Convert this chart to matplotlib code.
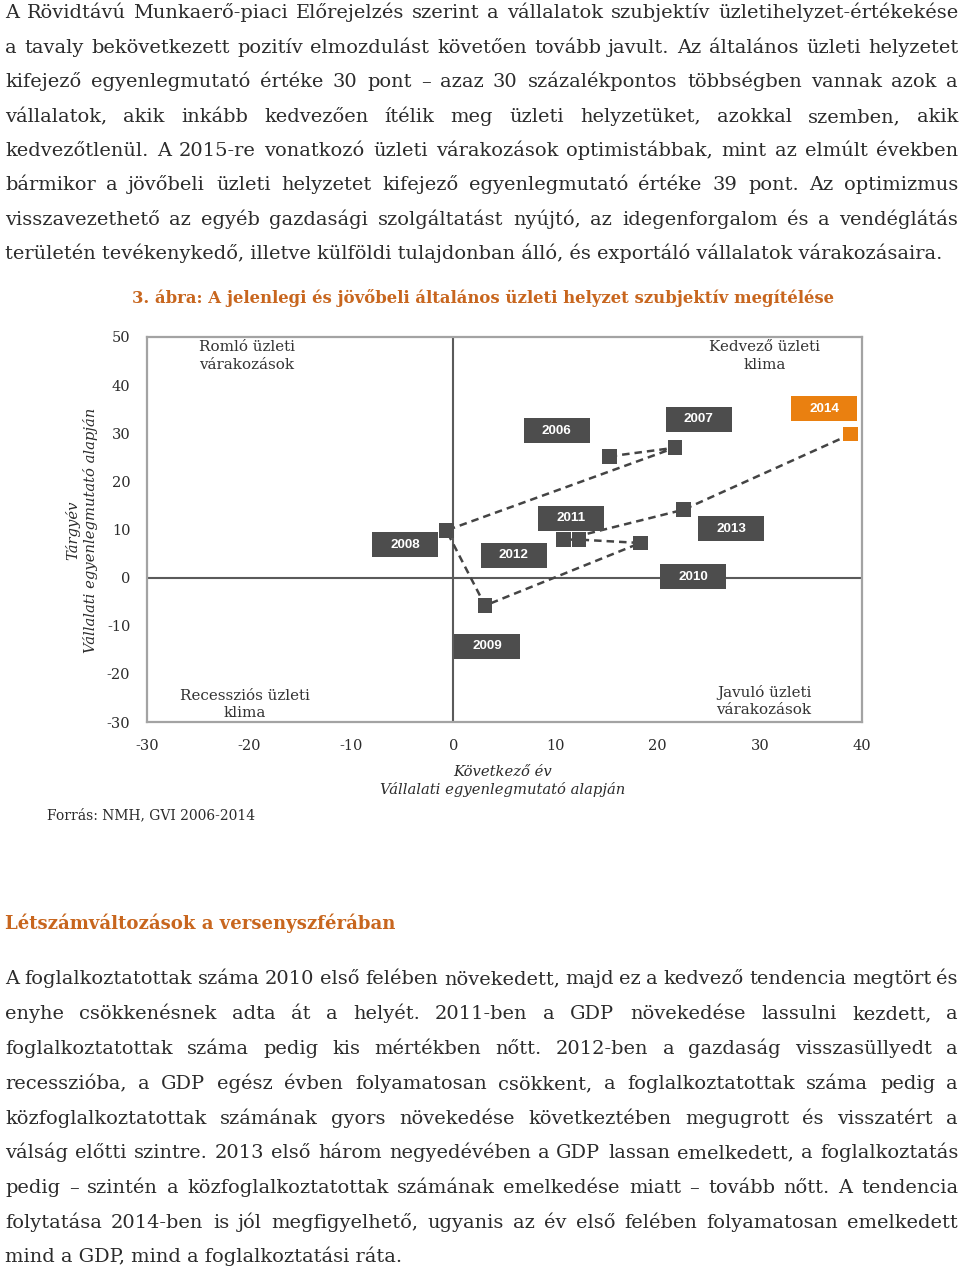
import matplotlib
matplotlib.use("Agg")
import matplotlib.pyplot as plt
from matplotlib.patches import Rectangle

# ---------------- data ----------------
years = ["2006", "2007", "2008", "2009", "2010", "2011", "2012", "2013", "2014"]
next_year_balance = [15.3, 21.7, -0.7, 3.1, 18.3, 12.3, 10.8, 22.5, 38.9]   # x: Következő év
current_year_balance = [25.2, 27.0, 9.8, -5.8, 7.2, 7.9, 7.9, 14.1, 29.8]  # y: Tárgyév
x_ticks = [-30, -20, -10, 0, 10, 20, 30, 40]
y_ticks = [-30, -20, -10, 0, 10, 20, 30, 40, 50]
highlight_year = "2014"

# label box layout (centre of each year box, in data units)
label_x = [10.1, 24.0, -4.7, 3.3, 23.5, 11.5, 5.9, 27.2, 36.3]
label_y = [30.5, 32.9, 6.8, -14.3, 0.2, 12.3, 4.7, 10.2, 35.1]

para1 = [
    "A Rövidtávú Munkaerő-piaci Előrejelzés szerint a vállalatok szubjektív üzletihelyzet-értékekése",
    "a tavaly bekövetkezett pozitív elmozdulást követően tovább javult. Az általános üzleti helyzetet",
    "kifejező egyenlegmutató értéke 30 pont – azaz 30 százalékpontos többségben vannak azok a",
    "vállalatok, akik inkább kedvezően ítélik meg üzleti helyzetüket, azokkal szemben, akik",
    "kedvezőtlenül. A 2015-re vonatkozó üzleti várakozások optimistábbak, mint az elmúlt években",
    "bármikor  a jövőbeli üzleti helyzetet kifejező egyenlegmutató értéke 39 pont. Az optimizmus",
    "visszavezethető az egyéb gazdasági szolgáltatást nyújtó, az idegenforgalom és a vendéglátás",
    "területén tevékenykedő, illetve külföldi tulajdonban álló, és exportáló vállalatok várakozásaira.",
]
para2 = [
    "A foglalkoztatottak száma 2010 első felében növekedett, majd ez a kedvező tendencia megtört és",
    "enyhe csökkenésnek adta át a helyét. 2011-ben a GDP növekedése lassulni kezdett, a",
    "foglalkoztatottak száma pedig kis mértékben nőtt. 2012-ben a gazdaság visszasüllyedt a",
    "recesszióba, a GDP egész évben folyamatosan csökkent, a foglalkoztatottak száma pedig a",
    "közfoglalkoztatottak számának gyors növekedése következtében megugrott és visszatért a",
    "válság előtti szintre. 2013 első három negyedévében a GDP lassan emelkedett, a foglalkoztatás",
    "pedig – szintén a közfoglalkoztatottak számának emelkedése miatt – tovább nőtt. A tendencia",
    "folytatása 2014-ben is jól megfigyelhető, ugyanis az év első felében folyamatosan emelkedett",
    "mind a GDP, mind a foglalkoztatási ráta.",
]
title = "3. ábra: A jelenlegi és jövőbeli általános üzleti helyzet szubjektív megítélése"
heading = "Létszámváltozások a versenyszférában"
source = "Forrás: NMH, GVI 2006-2014"

# ---------------- styles ----------------
plt.rcParams["axes.unicode_minus"] = False
W, H = 960, 1272
SERIF = ["DejaVu Serif"]
SANS = ["Liberation Sans", "DejaVu Sans"]
TEXT_C = "#2b2b2b"
ACCENT = "#c8661e"
DARK = "#4d4d4d"
ORANGE = "#ea8010"

fig = plt.figure(figsize=(W / 100, H / 100), dpi=100)
fig.patch.set_facecolor("white")
renderer = fig.canvas.get_renderer()


def fx(px):
    return px / W


def fy(py):
    return 1 - py / H


def fit_size(text, target_px, **kw):
    """font size at which `text` is target_px wide"""
    t = fig.text(0, 0, text, fontsize=10, **kw)
    w = t.get_window_extent(renderer).width
    t.remove()
    return 10 * target_px / w


def justified(lines, x0, x1, base0, step, **kw):
    """one Text per word, spread so that each full line spans x0..x1"""
    for i, line in enumerate(lines):
        y = fy(round(base0 + i * step))          # whole-pixel baselines
        if i == len(lines) - 1:
            fig.text(fx(x0), y, line, ha="left", va="baseline", **kw)
            continue
        words = line.split()
        ts = [fig.text(0, y, w, ha="left", va="baseline", **kw) for w in words]
        widths = [t.get_window_extent(renderer).width for t in ts]
        gap = (x1 - x0 - sum(widths)) / (len(words) - 1)
        x = x0
        for t, w in zip(ts, widths):
            t.set_x(fx(round(x)))
            x += w + gap


body_fs = fit_size(para1[-1], 935, family=SERIF)
body_kw = dict(family=SERIF, fontsize=body_fs, color=TEXT_C)
justified(para1, 5, 958, 18.5, 34.35, **body_kw)
justified(para2, 5, 958, 984.5, 34.75, **body_kw)

title_fs = fit_size(title, 706, family=SERIF, fontweight="bold")
fig.text(fx(483), fy(298), title, ha="center", va="center", family=SERIF,
         fontsize=title_fs, fontweight="bold", color=ACCENT)
head_fs = fit_size(heading, 393, family=SERIF, fontweight="bold")
fig.text(fx(5), fy(923), heading, ha="left", va="center", family=SERIF,
         fontsize=head_fs, fontweight="bold", color=ACCENT)
src_fs = fit_size(source, 208, family=SERIF)
fig.text(fx(47), fy(815), source, ha="left", va="center", family=SERIF,
         fontsize=src_fs, color=TEXT_C)

# ---------------- chart ----------------
L, R, T, B = 147, 862, 337, 722
ax = fig.add_axes([fx(L), fy(B), (R - L) / W, (B - T) / H])
ax.set_xlim(-30, 40)
ax.set_ylim(-30, 50)
ax.set_xticks(x_ticks)
ax.set_yticks(y_ticks)
ax.tick_params(length=0, labelsize=10.5, colors=TEXT_C)
ax.tick_params(axis="y", pad=12)
ax.tick_params(axis="x", pad=12)
for lab in ax.get_xticklabels() + ax.get_yticklabels():
    lab.set_family(SERIF)
for s in ax.spines.values():
    s.set_color("#a3a3a3")
    s.set_linewidth(1.6)
ax.axhline(0, color="#5a5a5a", lw=1.5, zorder=1)
ax.axvline(0, color="#5a5a5a", lw=1.5, zorder=1)

ax.plot(next_year_balance, current_year_balance, ls=(0, (3, 2)), color="#444444",
        lw=1.8, zorder=2)
colors = [ORANGE if yr == highlight_year else DARK for yr in years]
ax.scatter(next_year_balance, current_year_balance, marker="s", s=110, c=colors,
           zorder=3, linewidths=0)

px_x = (R - L) / 70.0
px_y = (B - T) / 80.0
bw, bh = 66 / px_x, 25 / px_y
for yr, lx, ly, c in zip(years, label_x, label_y, colors):
    ax.add_patch(Rectangle((lx - bw / 2, ly - bh / 2), bw, bh, facecolor=c,
                           edgecolor="none", zorder=4))
    ax.text(lx, ly, yr, ha="center", va="center", color="white", family=SANS,
            fontsize=9.7, fontweight="bold", zorder=5)

q_fs = fit_size("Romló üzleti", 96, family=SERIF)
q_kw = dict(family=SERIF, fontsize=q_fs, color="#333333", ha="center",
            multialignment="center", linespacing=1.3)
ax.text(-20.2, 49.3, "Romló üzleti\nvárakozások", va="top", **q_kw)
ax.text(30.5, 49.3, "Kedvező üzleti\nklima", va="top", **q_kw)
ax.text(-20.4, -29.6, "Recessziós üzleti\nklima", va="bottom", **q_kw)
ax.text(30.4, -29.0, "Javuló üzleti\nvárakozások", va="bottom", **q_kw)

lab_fs = fit_size("Vállalati egyenlegmutató alapján", 245, family=SERIF, style="italic")
fig.text(fx(503), fy(781), "Következő év\nVállalati egyenlegmutató alapján",
         ha="center", va="center", family=SERIF, style="italic", fontsize=lab_fs,
         color=TEXT_C, linespacing=1.25)
fig.text(fx(82), fy(530), "Tárgyév\nVállalati egyenlegmutató alapján",
         ha="center", va="center", rotation=90, family=SERIF, style="italic",
         fontsize=lab_fs, color=TEXT_C, linespacing=1.25, multialignment="center")

fig.savefig("out.png", dpi=100)
